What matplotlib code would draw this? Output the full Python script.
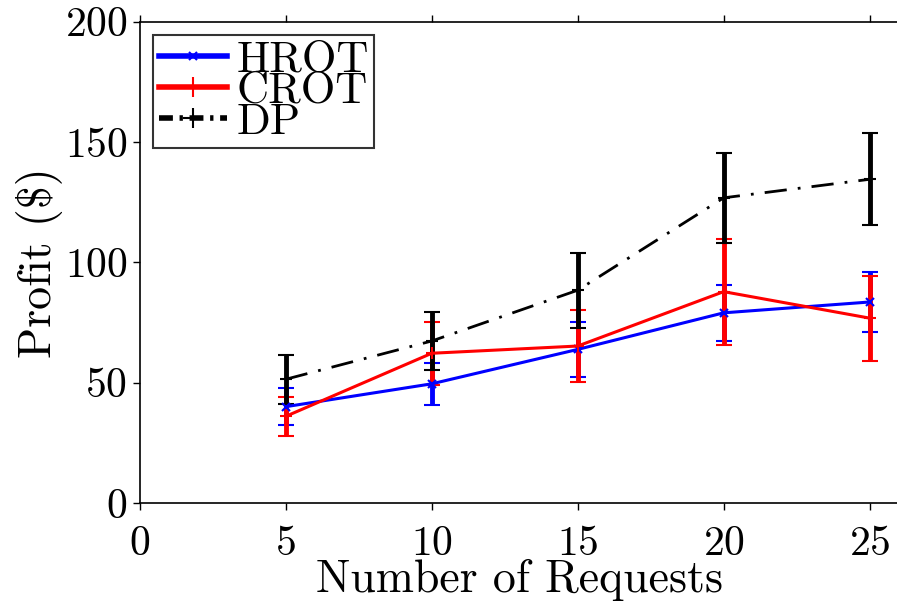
import matplotlib
matplotlib.use("Agg")
import matplotlib.pyplot as plt
from matplotlib.lines import Line2D

plt.rcParams['font.family'] = 'serif'
plt.rcParams['font.serif'] = ['cmr10', 'DejaVu Serif']
plt.rcParams['mathtext.fontset'] = 'cm'
plt.rcParams['axes.formatter.use_mathtext'] = True

requests = [5, 10, 15, 20, 25]

hrot_mean = [40.0, 49.5, 63.8, 79.0, 83.5]
hrot_err = [7.8, 8.7, 11.4, 11.6, 12.6]

crot_mean = [36.0, 62.2, 65.2, 87.8, 76.8]
crot_err = [8.0, 13.0, 15.0, 22.0, 17.7]

dp_mean = [51.4, 67.3, 88.4, 126.8, 134.5]
dp_err = [10.2, 12.0, 15.6, 18.8, 19.2]

dp_style = (0, (8, 4, 1, 4))

fig = plt.figure(figsize=(8.97, 6.03), dpi=100)
ax = fig.add_axes([0.156, 0.166, 0.846, 0.798])

ax.errorbar(requests, hrot_mean, yerr=hrot_err, color='#0000ff', lw=2.2,
            marker='x', ms=6, mew=1.5, elinewidth=3.5, capsize=6, capthick=4)
ax.errorbar(requests, crot_mean, yerr=crot_err, color='#ff0000', lw=2.2,
            marker='+', ms=9, mew=1.5, elinewidth=3.5, capsize=6, capthick=4)
ax.errorbar(requests, dp_mean, yerr=dp_err, color='black', lw=2.0,
            ls=dp_style, marker='+', ms=9, mew=1.5,
            elinewidth=3.5, capsize=6, capthick=4)

ax.set_xlim(0, 26)
ax.set_ylim(0, 200)
ax.set_xticks([0, 5, 10, 15, 20, 25])
ax.set_yticks([0, 50, 100, 150, 200])
ax.tick_params(direction='out', length=5, width=1, labelsize=30,
               top=True, right=True)
ax.tick_params(axis='x', pad=11)
ax.tick_params(axis='y', pad=4)
for s in ax.spines.values():
    s.set_linewidth(1.2)

ax.set_xlabel('Number of Requests', fontsize=33)
ax.xaxis.set_label_coords(0.5, -0.117)
ax.xaxis.label.set_va('top')
ax.set_ylabel('Profit (\\$)', fontsize=33)
ax.yaxis.set_label_coords(-0.102, 0.5)

# legend shows plain line samples, no error bars
handles = [
    Line2D([], [], color='#0000ff', lw=4, marker='x', ms=6, mew=1.5),
    Line2D([], [], color='#ff0000', lw=4, marker='+', ms=14, mew=1.5),
    Line2D([], [], color='black', lw=4, ls=(0, (2.5, 1.2, 0.6, 1.2)),
           marker='+', ms=14, mew=1.5),
]
leg = ax.legend(handles, ['HROT', 'CROT', 'DP'], loc='upper left',
                fontsize=32, frameon=True, fancybox=False,
                edgecolor='black', borderpad=0.12, labelspacing=-0.2,
                handlelength=1.55, handletextpad=0.2, borderaxespad=0.3)
leg.get_frame().set_linewidth(1.5)

fig.savefig('out.png', dpi=100)
